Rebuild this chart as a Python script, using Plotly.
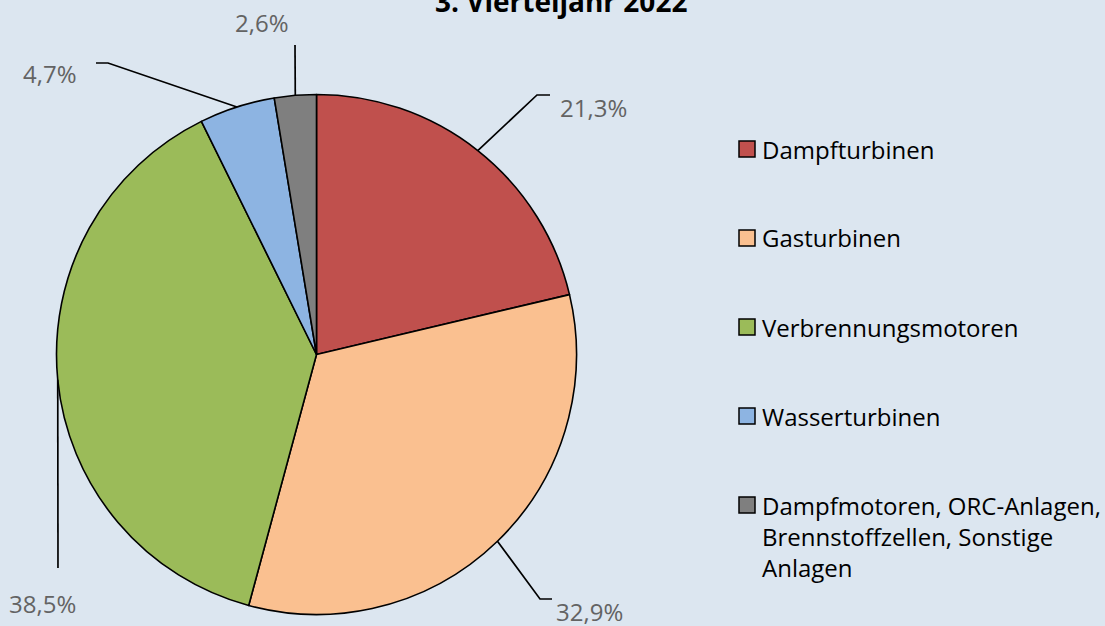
import math
import plotly.graph_objects as go

# ---- data ----
categories = ["Dampfturbinen", "Gasturbinen", "Verbrennungsmotoren", "Wasserturbinen",
              "Dampfmotoren, ORC-Anlagen, Brennstoffzellen, Sonstige Anlagen"]
legend_labels = ["Dampfturbinen", "Gasturbinen", "Verbrennungsmotoren", "Wasserturbinen",
                 "Dampfmotoren, ORC-Anlagen,<br>Brennstoffzellen, Sonstige<br>Anlagen"]
values = [21.3, 32.9, 38.5, 4.7, 2.6]
value_labels = ["21,3%", "32,9%", "38,5%", "4,7%", "2,6%"]
title_text = "3. Vierteljahr 2022"

# ---- style ----
colors = ["#C0504D", "#FAC090", "#9BBB59", "#8DB4E2", "#7F7F7F"]
BG = "#DCE6F0"
W, H = 1105, 626
FONT = "Open Sans"
cx, cy, R = 316.5, 354.5, 260.0          # pixel centre / radius of pie
# leader-line elbow (px) and label anchor per slice
elbows = [(537, 95), (540, 599), (58, 568), (108, 63), (295, 45)]
line_ends = [(550, 95), (552, 599), (58, 568), (96, 63), (295, 45)]
label_pos = [(558, 107, "left"), (554, 611, "left"), (7, 603, "left"), (79, 73, "right"), (291, 22, "right")]


def px(x):
    return x / W


def py(y):
    return 1 - y / H


fig = go.Figure(go.Pie(
    labels=categories, values=values, sort=False, direction="clockwise", rotation=0,
    marker=dict(colors=colors, line=dict(color="black", width=1.6)),
    textinfo="none", hoverinfo="label+percent", showlegend=False,
    domain=dict(x=[px(cx - R), px(cx + R)], y=[py(cy + R), py(cy - R)]),
))

shapes = []
annotations = []
total = sum(values)
cum = 0.0
for i, v in enumerate(values):
    mid = (cum + v / 2) / total * 2 * math.pi
    cum += v
    sx = cx + R * math.sin(mid)
    sy = cy - R * math.cos(mid)
    ex, ey = elbows[i]
    lx, ly = line_ends[i]
    path = f"M {px(sx)} {py(sy)} L {px(ex)} {py(ey)} L {px(lx)} {py(ly)}"
    shapes.append(dict(type="path", xref="paper", yref="paper", path=path,
                       line=dict(color="black", width=1.7)))
    tx, ty, anc = label_pos[i]
    annotations.append(dict(x=px(tx), y=py(ty), xref="paper", yref="paper", text=value_labels[i],
                            showarrow=False, xanchor=anc, yanchor="middle",
                            font=dict(family=FONT, size=24, color="#636363")))

# legend (manual)
leg_x = 739
leg_y0 = 149
leg_step = 89
for i, lab in enumerate(legend_labels):
    yy = leg_y0 + i * leg_step
    shapes.append(dict(type="rect", xref="paper", yref="paper",
                       x0=px(leg_x), x1=px(leg_x + 16), y0=py(yy + 8), y1=py(yy - 8),
                       fillcolor=colors[i], line=dict(color="black", width=1.5)))
    multi = "<br>" in lab
    annotations.append(dict(x=px(leg_x + 21), y=py(yy), xref="paper", yref="paper", text=lab,
                            showarrow=False, xanchor="left", yanchor="top" if multi else "middle",
                            align="left", yshift=18 if multi else 0,
                            font=dict(family=FONT, size=24, color="black")))

annotations.append(dict(x=px(561), y=py(1), xref="paper", yref="paper", text=f"<b>{title_text}</b>",
                        showarrow=False, xanchor="center", yanchor="middle",
                        font=dict(family=FONT, size=28, color="black")))

fig.update_layout(width=W, height=H, margin=dict(l=0, r=0, t=0, b=0),
                  paper_bgcolor=BG, plot_bgcolor=BG, shapes=shapes, annotations=annotations,
                  showlegend=False)
fig.write_html("out.html", config={"displayModeBar": False},
               post_script="document.body.style.margin='0';document.body.style.padding='0';"
                           "document.body.style.overflow='hidden';")
